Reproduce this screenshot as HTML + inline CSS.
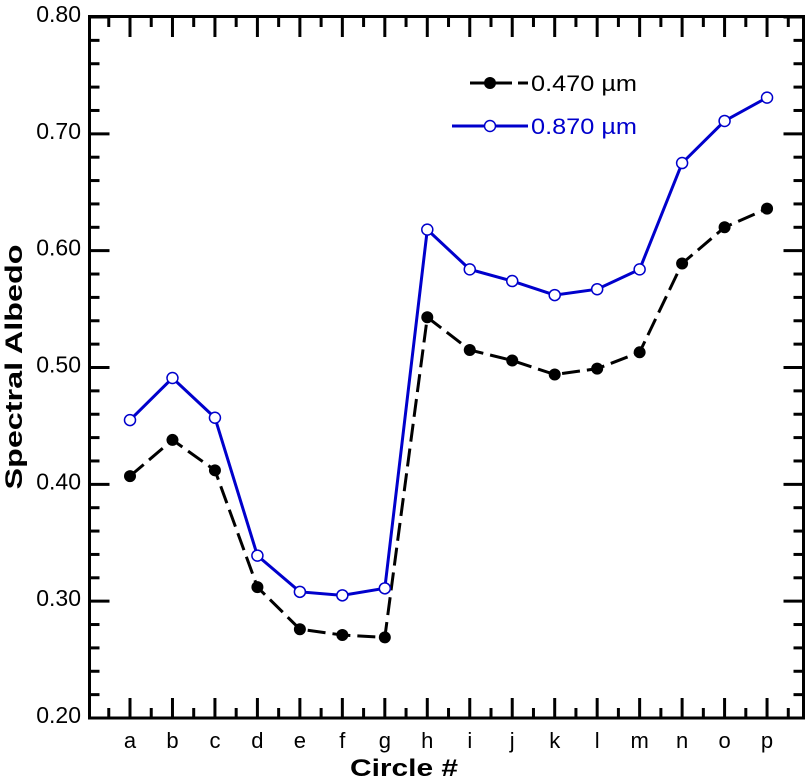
<!DOCTYPE html>
<html><head><meta charset="utf-8"><style>
body{margin:0;background:#fff;}
svg text{font-family:"Liberation Sans",sans-serif;}
</style></head><body>
<svg id="chart" width="810" height="778" xmlns="http://www.w3.org/2000/svg">
<g id="ticks"></g>
<g id="labels"></g>
<g id="series"></g>
<rect x="89.5" y="16.5" width="714" height="701.5" fill="none" stroke="#000" stroke-width="3"/>
<text x="350" y="776" font-size="24" font-weight="bold" textLength="108" lengthAdjust="spacingAndGlyphs">Circle #</text>
<text transform="translate(22,367) rotate(-90)" font-size="24" font-weight="bold" text-anchor="middle" textLength="245" lengthAdjust="spacingAndGlyphs">Spectral Albedo</text>
<g>
<line x1="470" y1="83" x2="528" y2="83" stroke="#000" stroke-width="3" stroke-dasharray="18 6"/>
<circle cx="490" cy="83" r="6" fill="#000"/>
<text x="531" y="91" font-size="22" fill="#000" textLength="106" lengthAdjust="spacingAndGlyphs">0.470 µm</text>
<line x1="452" y1="126" x2="528" y2="126" stroke="#0000cc" stroke-width="3"/>
<circle cx="490" cy="126" r="5.5" fill="#fff" stroke="#0000cc" stroke-width="1.5"/>
<text x="531" y="134" font-size="22" fill="#0000cc" textLength="106" lengthAdjust="spacingAndGlyphs">0.870 µm</text>
</g>
</svg>
<script>
const categories=["a","b","c","d","e","f","g","h","i","j","k","l","m","n","o","p"];
const series470=[0.407,0.438,0.412,0.312,0.276,0.271,0.269,0.543,0.515,0.506,0.494,0.499,0.513,0.589,0.620,0.636];
const series870=[0.455,0.491,0.457,0.339,0.308,0.305,0.311,0.618,0.584,0.574,0.562,0.567,0.584,0.675,0.711,0.731];
const yTickValues=[0.20,0.30,0.40,0.50,0.60,0.70,0.80];
const yTickLabels=["0.20","0.30","0.40","0.50","0.60","0.70","0.80"];
const NS="http://www.w3.org/2000/svg";
const x0=130,dx=42.47,yBot=718,yTop=17,vMin=0.2,vMax=0.8;
function xs(i){return x0+i*dx;}
function ys(v){return yBot-(v-vMin)/(vMax-vMin)*(yBot-yTop);}
function mk(tag,attrs,parent){const e=document.createElementNS(NS,tag);for(const k in attrs)e.setAttribute(k,attrs[k]);parent.appendChild(e);return e;}
const T=document.getElementById('ticks'),L=document.getElementById('labels'),S=document.getElementById('series');
for(let i=-1;i<categories.length;i++){
  const xm=xs(i);const xh=xm+dx/2;
  if(i>=0){
    const t=mk('line',{x1:xm,x2:xm,y1:yBot,y2:yBot-20,stroke:'#000','stroke-width':3},T);
    
    const t2=mk('line',{x1:xm,x2:xm,y1:yTop,y2:yTop+20,stroke:'#000','stroke-width':3},T);
    
    const lb=mk('text',{x:xm,y:748,'font-size':22,'text-anchor':'middle'},L);lb.textContent=categories[i];
    
  }
  if(xh>90&&xh<803){
    const m=mk('line',{x1:xh,x2:xh,y1:yBot,y2:yBot-10,stroke:'#000','stroke-width':3},T);
    
    const m2=mk('line',{x1:xh,x2:xh,y1:yTop,y2:yTop+10,stroke:'#000','stroke-width':3},T);
    
  }
}
for(let k=0;k<=30;k++){
  const v=vMin+k*0.02;const y=ys(v);const major=k%5===0;const len=major?20:10;
  const a=mk('line',{x1:89.5,x2:89.5+len,y1:y,y2:y,stroke:'#000','stroke-width':3},T);
  
  const b=mk('line',{x1:803.5,x2:803.5-len,y1:y,y2:y,stroke:'#000','stroke-width':3},T);
  
}
yTickValues.forEach((v,i)=>{
  const lb=mk('text',{x:81,y:ys(v)+5,'font-size':23,'text-anchor':'end'},L);lb.textContent=yTickLabels[i];
  
});
function pts(arr){return arr.map((v,i)=>xs(i)+','+ys(v)).join(' ');}
const l1=mk('polyline',{points:pts(series470),fill:'none',stroke:'#000','stroke-width':3,'stroke-dasharray':'18 7'},S);

const l2=mk('polyline',{points:pts(series870),fill:'none',stroke:'#0000cc','stroke-width':3},S);

series470.forEach((v,i)=>{
  const c=mk('circle',{cx:xs(i),cy:ys(v),r:6,fill:'#000'},S);
  
});
series870.forEach((v,i)=>{
  const c=mk('circle',{cx:xs(i),cy:ys(v),r:5.5,fill:'#fff',stroke:'#0000cc','stroke-width':1.5},S);
  
});
</script>
</body></html>
